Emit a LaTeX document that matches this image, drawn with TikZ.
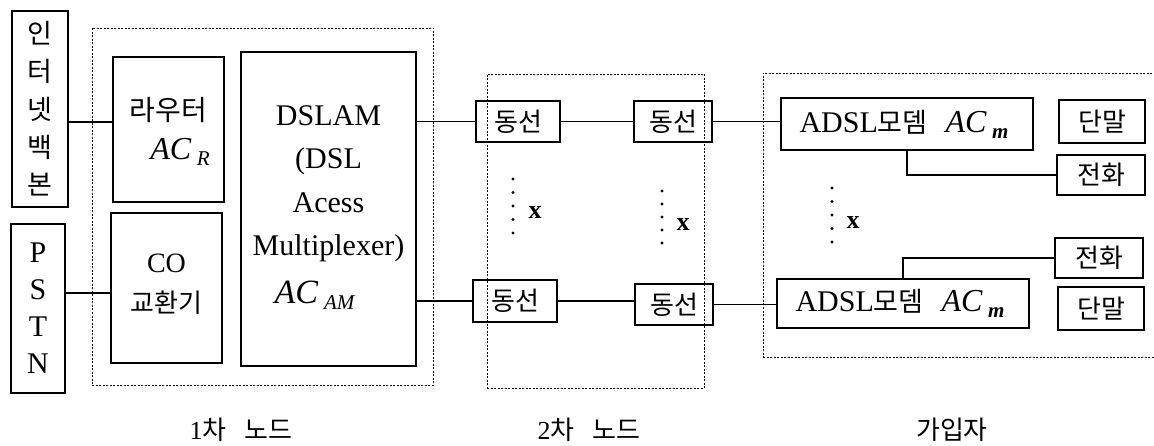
\documentclass[tikz,border=0pt]{standalone}
\usepackage{fontspec}
\setmainfont{Liberation Serif}
\newfontfamily\kr{Noto Sans CJK KR}
\newcommand\ACs[1]{\textit{AC}\,\raisebox{-0.4ex}{\fontsize{21}{21}\selectfont\textit{#1}}}
\tikzset{
  box/.style={draw, line width=1.4pt, inner sep=0pt, align=center},
  grp/.style={draw, line width=0.8pt, dash pattern=on 2pt off 1.5pt},
  wire/.style={line width=1.2pt},
  dotm/.style={circle, fill, inner sep=0pt, minimum size=3.2pt},
  krt/.style={font=\kr\fontsize{26}{30}\selectfont},
  lat/.style={font=\fontsize{30}{36}\selectfont},
  xlab/.style={font=\bfseries\fontsize{26}{26}\selectfont},
  captxt/.style={font=\kr\fontsize{26}{28}\selectfont},
}
\begin{document}
\begin{tikzpicture}[x=1pt,y=-1pt]
\useasboundingbox (0,0) rectangle (1154,446);
% groups
\node[grp, minimum width=341, minimum height=357] (g1) at (262.5,206.5) {};
\node[grp, minimum width=217, minimum height=314] (g2) at (595.5,231) {};
\node[grp, minimum width=420, minimum height=284] (g3) at (973,215) {};
% left sources
\node[box, minimum width=56, minimum height=196, font=\kr\fontsize{27}{37.8}\selectfont] (net) at (40,109) {인\\터\\넷\\백\\본};
\node[box, minimum width=54, minimum height=169, font=\fontsize{30}{37}\selectfont] (pstn) at (38,308.5) {P\\S\\T\\N};
% first node
\node[box, minimum width=111, minimum height=145] (router) at (168.5,129.5) {};
\node[font=\kr\fontsize{28}{28}\selectfont] (routerT) at (168.5,110) {라우터};
\node[font=\fontsize{32}{32}\selectfont] (routerAC) at (180,152) {\ACs{R}};
\node[box, minimum width=111, minimum height=150] (co) at (166.5,288) {};
\node[font=\fontsize{28}{28}\selectfont] (coT) at (166.5,263) {CO};
\node[font=\kr\fontsize{26}{26}\selectfont] (coT2) at (166.5,303) {교환기};
\node[box, minimum width=175, minimum height=314] (dslam) at (328.5,209) {};
\node[lat, align=center, font=\fontsize{30}{43.5}\selectfont] (dslamT) at (328.5,184) {DSLAM\\(DSL\\Acess\\Multiplexer)};
\node[font=\fontsize{34}{34}\selectfont] (dslamAC) at (315,295) {\ACs{AM}};
% second node
\node[box, krt, minimum width=84, minimum height=41] (c1) at (518,121.5) {동선};
\node[box, krt, minimum width=78, minimum height=41] (c2) at (673,121.5) {동선};
\node[box, krt, minimum width=84, minimum height=42] (c3) at (515,301) {동선};
\node[box, krt, minimum width=78, minimum height=41] (c4) at (674,304.5) {동선};
% subscriber
\node[box, minimum width=252, minimum height=52, font=\fontsize{30}{30}\selectfont] (m1) at (907,124) {ADSL{\kr\fontsize{27}{27}\selectfont 모뎀}\hspace{0.6em}{\fontsize{32}{32}\selectfont\ACs{\textbf{m}}}\hspace{6pt}};
\node[box, minimum width=252, minimum height=49, font=\fontsize{30}{30}\selectfont] (m2) at (903,303.5) {ADSL{\kr\fontsize{27}{27}\selectfont 모뎀}\hspace{0.6em}{\fontsize{32}{32}\selectfont\ACs{\textbf{m}}}\hspace{6pt}};
\node[box, krt, minimum width=86, minimum height=43] (t1) at (1102,121.5) {단말};
\node[box, krt, minimum width=88, minimum height=40] (p1) at (1101,175) {전화};
\node[box, krt, minimum width=88, minimum height=40] (p2) at (1099,258) {전화};
\node[box, krt, minimum width=86, minimum height=43] (t2) at (1101,308.5) {단말};
% connectors
\draw[wire] ([yshift=7.5pt]router.west) -- ([yshift=7.5pt]router.west -| net.east);
\draw[wire] ([yshift=-5pt]co.west) -- ([yshift=-5pt]co.west -| pstn.east);
\draw[wire] (c1.west -| dslam.east) -- (c1.west);
\draw[wire] (c1.east) -- (c2.west);
\draw[wire] (c2.east) -- (c2.east -| m1.west);
\draw[wire] (c3.west -| dslam.east) -- (c3.west);
\draw[wire] (c3.east) -- (c3.east -| c4.west);
\draw[wire] (c4.east) -- (c4.east -| m2.west);
\draw[wire] (m1.south) |- (p1.west);
\draw[wire] (m2.north) |- (p2.west);
% ellipsis dots
\foreach \i in {0,...,4} {
  \node[dotm] (da\i) at (513,179+13.5*\i) {};
  \node[dotm] (db\i) at (662,191+13*\i) {};
  \node[dotm] (dc\i) at (832,188+13.5*\i) {};
}
\node[xlab] (xa) at (535,213) {x};
\node[xlab] (xb) at (683,225) {x};
\node[xlab] (xc) at (853,223) {x};
% captions
\node[captxt] (cap1) at (241,430) {{\rmfamily 1}차\hspace{0.7em}노드};
\node[captxt] (cap2) at (589,430) {{\rmfamily 2}차\hspace{0.7em}노드};
\node[captxt] (cap3) at (952,430) {가입자};
\end{tikzpicture}
\end{document}
